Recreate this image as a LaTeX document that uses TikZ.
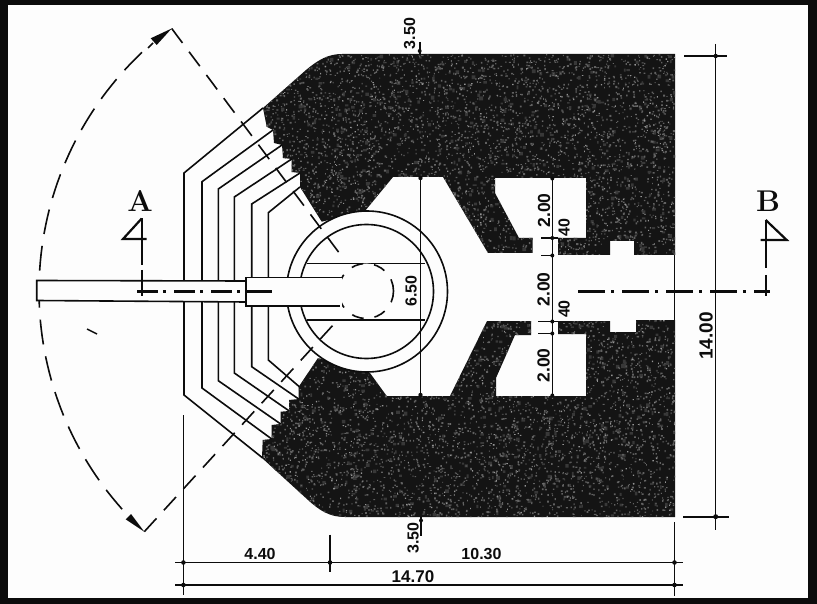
\documentclass[tikz,border=0pt]{standalone}
\usepackage{fontspec}
\newfontfamily\techbase{Liberation Sans}
\newcommand{\tech}{\techbase\bfseries}
\definecolor{ink}{HTML}{0C0C0C}
\definecolor{frame}{HTML}{0C0C0C}
\definecolor{paper}{HTML}{FDFDFD}
\tikzset{
  ln/.style={draw=ink,line width=1.6pt},
  thin ln/.style={draw=ink,line width=1.3pt},
  whitebox/.style={fill=paper,draw=ink,line width=1.6pt},
  dim/.style={font=\tech\fontsize{16}{16}\selectfont,text=ink,inner sep=0pt},
  dimv/.style={dim,rotate=90},
  sect/.style={font=\bfseries\fontsize{30}{30}\selectfont,text=ink,inner sep=0pt},
  radial/.style={draw=ink,line width=1.6pt,dash pattern=on 18pt off 11pt},
  centre/.style={draw=ink,line width=2.2pt},
}
\def\darkA{(342,54) -- (675,54) -- (675,255) -- (634,255) -- (634,241) -- (610,241) -- (610,255) -- (558,255) -- (558,238) -- (586,238) -- (586,178) -- (495,178) -- (495,193) -- (519,238) -- (532.7,238) -- (532.7,253) -- (488,253) -- (443,177) -- (393,177) -- (365,211) -- (321.7,221.7) -- (300,187) -- (300,173) -- (291.7,172) -- (291.7,159) -- (283,158) -- (282,145) -- (274,143) -- (273,130) -- (266.7,126.7) -- (263,108) -- (306,70) .. controls (318,60) and (328,54) .. (342,54) -- cycle}
\def\darkB{(345,517) -- (675,517) -- (675,320) -- (636,320) -- (636,332) -- (610,332) -- (610,321) -- (558,321) -- (558,334) -- (586,334) -- (586,396) -- (496,396) -- (496,378) -- (515,335) -- (531,335) -- (531,321) -- (487,321) -- (450,396) -- (386.7,396) -- (370,373) -- (318,358) -- (298.7,386.7) -- (298.7,399) -- (289,400) -- (289.3,411) -- (280.7,411.7) -- (280.7,424) -- (271.7,425) -- (271.7,439) -- (262.7,440) -- (262,458) -- (308,500) .. controls (320,511) and (330,517) .. (345,517) -- cycle}
\begin{document}
\begin{tikzpicture}[x=1pt,y=-1pt]
\useasboundingbox (0,0) rectangle (817,604);
\fill[frame] (0,0) rectangle (817,604);
\fill[paper] (8,5) rectangle (808,597.5);

% solid masonry with fine speckle
\fill[black!92] \darkA;
\fill[black!92] \darkB;
\begin{scope}
  \clip \darkA \darkB;
  \pgfmathsetseed{4217}
  \foreach \b in {1,...,6}{
    \fill[black!78] \foreach \i in {1,...,200}{
      ({262+413*rnd},{54+463*rnd}) rectangle ++({1.5+2.5*rnd},{1.5+2.5*rnd})
    };
  }
  \foreach \b in {1,...,38}{
    \fill[black!62] \foreach \i in {1,...,200}{
      ({262+413*rnd},{54+463*rnd}) rectangle ++({0.8+1.2*rnd},{0.8+1.2*rnd})
    };
  }
  \foreach \b in {1,...,10}{
    \fill[black!42] \foreach \i in {1,...,200}{
      ({262+413*rnd},{54+463*rnd}) rectangle ++({0.6+0.9*rnd},{0.6+0.9*rnd})
    };
  }
\end{scope}
\draw[thin ln] (674.5,255) -- (674.5,320);

% stepped embrasure
\draw[ln] (263,108) -- (184,173) -- (184,395) -- (262.7,458);
\draw[ln] (273,130) -- (202,181.7) -- (202,388) -- (271.7,439);
\draw[ln] (282,145) -- (218.3,189) -- (218.3,380.7) -- (280.7,424);
\draw[ln] (291.7,159) -- (234.3,197) -- (234.3,373) -- (289.3,411);
\draw[ln] (300,173) -- (251.7,204) -- (251.7,366.7) -- (298.7,399);
\draw[ln] (300,187) -- (268.3,212.7) -- (268.3,360) -- (299.3,386.7);

% turret
\draw[ln,fill=paper] (367,291.5) circle (80.5pt);
\draw[ln] (366.5,291.5) circle (67pt);
\draw[ln] (306.5,263.5) -- (425,263.5);
\draw[ln] (306.5,320) -- (425,320);
\fill[paper] (366,291) circle (27.5pt);
\draw[ln,dash pattern=on 12pt off 11pt] (366,291) circle (27.5pt);

% swing arc and its limit lines
\draw[ink,line width=1.6pt,dash pattern=on 25pt off 12pt] plot[domain=138.3:228,samples=70] ({367+328*cos(\x)},{291+328*sin(\x)});
\coordinate (arcTop) at (171.7,28.5);
\coordinate (arcBot) at (144.3,531.7);
\coordinate (limTop) at (343,258);
\coordinate (limBot) at (334,324);
\draw[radial] (arcTop) -- (limTop);
\draw[radial] (arcBot) -- (limBot);
\fill[ink] (arcTop) -- (150.7,38.3) -- (156.7,45) -- cycle;
\draw[ink,line width=1.6pt] (148,48) -- (153,43);
\fill[ink] (arcBot) -- (125.7,519.3) -- (131,514) -- cycle;
\draw[ink,line width=1.4pt] (87,329) -- (97,334);

% gun barrel
\draw[whitebox] (36.7,280.5) -- (246,281) -- (246,302) -- (36.7,300.5) -- cycle;
\fill[paper] (246,277.5) rectangle (342,306);
\draw[ln] (343,277.5) -- (246,277.5) -- (246,306) -- (340,306);

% section line A
\node[sect] (labA) at (140,201) {A};
\draw[centre] (141.7,218.5) -- (123,239) -- (146.7,239);
\draw[centre] (141.7,218.5) -- (141.7,265);
\draw[centre] (141.7,270) -- (141.7,296);
\draw[centre,dash pattern=on 21pt off 5pt on 3pt off 8pt] (137,291.5) -- (243,291.5);
\draw[centre] (246,291.5) -- (272,291.5);

% section line B
\node[sect] (labB) at (768,201) {B};
\draw[centre] (765.7,220) -- (786.7,240) -- (760.7,240);
\draw[centre] (765.7,220) -- (765.7,268);
\draw[centre] (765.7,275) -- (765.7,296);
\draw[centre,dash pattern=on 27pt off 6pt on 3pt off 8pt] (578,291.5) -- (770,291.5);

% inner dimensions
\draw[thin ln] (420.5,177) -- (420.5,396);
\fill[ink] (420.5,178) circle (2.2pt) (420.5,395) circle (2.2pt);
\draw[thin ln] (552.3,178) -- (552.3,396);
\draw[thin ln] (541,238) -- (558,238);
\draw[thin ln] (541,255.5) -- (554,255.5);
\draw[thin ln] (538,321.5) -- (558,321.5);
\draw[thin ln] (538,333.5) -- (554,333.5);
\fill[ink] (552.3,178.5) circle (2pt) (552.3,238) circle (2pt) (552.3,255.5) circle (2pt) (552.3,321.5) circle (2pt) (552.3,333.5) circle (2pt) (552.3,395.5) circle (2pt);
\node[dimv] (d650) at (411,291) {6.50};
\node[dimv,font=\tech\fontsize{17.5}{17.5}\selectfont] (d200a) at (544,210.5) {2.00};
\node[dimv,font=\tech\fontsize{17.5}{17.5}\selectfont] (d200b) at (543.5,289.5) {2.00};
\node[dimv,font=\tech\fontsize{17.5}{17.5}\selectfont] (d200c) at (543.5,365.5) {2.00};
\node[dimv] (d40a) at (564,227.5) {40};
\node[dimv] (d40b) at (564,309) {40};

% top and bottom 3.50
\draw[ln] (419.7,42) -- (419.7,54);
\fill[ink] (419.7,51) circle (2pt);
\node[dimv] (d350a) at (409.5,33.5) {3.50};
\draw[ln] (421,517) -- (421,536);
\fill[ink] (421,520.5) circle (2pt);
\node[dimv] (d350b) at (413,538) {3.50};

% right dimension
\draw[thin ln] (715.7,44) -- (715.7,530);
\draw[thin ln] (684,56) -- (727,56);
\draw[ln] (683,516.7) -- (729,516.7);
\fill[ink] (715.7,56) circle (2.2pt) (715.7,516.7) circle (2.5pt);
\node[dimv,font=\tech\fontsize{19}{19}\selectfont] (d1400) at (706,336) {14.00};

% bottom dimensions
\draw[ln] (183.4,415) -- (183.4,595);
\draw[ln] (330,534.5) -- (330,572);
\draw[ln] (674.5,522) -- (674.5,596);
\draw[ln] (175,562.5) -- (683,562.5);
\draw[ln] (175,585) -- (683,585);
\fill[ink] (183.4,562.5) circle (2.3pt) (330,562.5) circle (2.3pt) (674.5,562.5) circle (2.3pt) (183.4,585) circle (2.3pt) (674.5,585) circle (2.3pt);
\node[dim] (d440) at (260,554) {4.40};
\node[dim] (d1030) at (481.5,554) {10.30};
\node[dim,font=\tech\fontsize{17}{17}\selectfont] (d1470) at (413,577) {14.70};
\end{tikzpicture}
\end{document}
